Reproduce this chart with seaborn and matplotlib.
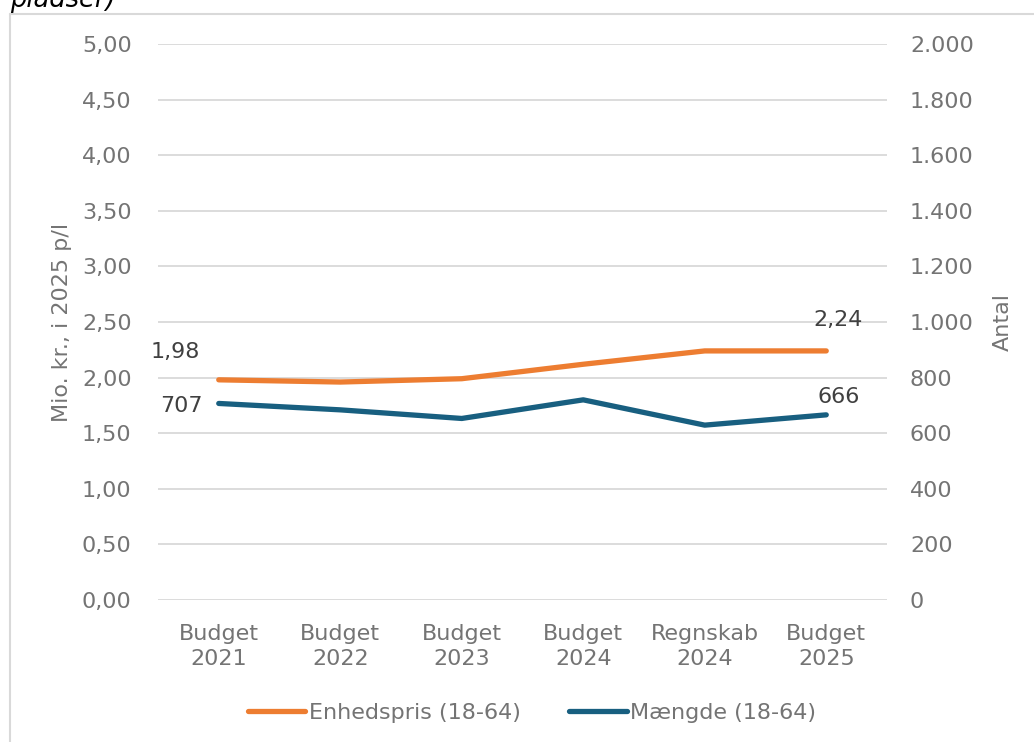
import matplotlib
matplotlib.use("Agg")
import matplotlib.pyplot as plt
from matplotlib.lines import Line2D
import seaborn as sns
import pandas as pd

sns.set_theme(style="white")
plt.rcParams['font.family'] = ['DejaVu Sans']

categories = ["Budget\n2021", "Budget\n2022", "Budget\n2023", "Budget\n2024", "Regnskab\n2024", "Budget\n2025"]
enhedspris = [1.98, 1.96, 1.99, 2.12, 2.24, 2.24]
maengde = [707, 684, 653, 720, 629, 666]
left_ticks = [0, 0.5, 1, 1.5, 2, 2.5, 3, 3.5, 4, 4.5, 5]
right_ticks = [0, 200, 400, 600, 800, 1000, 1200, 1400, 1600, 1800, 2000]

orange = "#ED7D31"
blue = "#185F80"
grey = "#747474"
grid = "#D9D9D9"
fs = 16
lw = 3.8

df = pd.DataFrame({"x": range(len(categories)), "Enhedspris": enhedspris, "Maengde": maengde})

fig = plt.figure(figsize=(10.34, 7.42), dpi=100)
ax = fig.add_axes([158/1034, 1-600/742, 729/1034, 556/742])
ax2 = ax.twinx()

sns.lineplot(data=df, x="x", y="Enhedspris", ax=ax, color=orange, linewidth=lw, solid_capstyle="round")
sns.lineplot(data=df, x="x", y="Maengde", ax=ax2, color=blue, linewidth=lw, solid_capstyle="round")

ax.set_xlim(-0.5, len(categories) - 0.5)
ax.set_ylim(0, 5)
ax2.set_ylim(0, 2000)
ax.set_yticks(left_ticks)
ax.set_yticklabels([f"{v:.2f}".replace(".", ",") for v in left_ticks])
ax2.set_yticks(right_ticks)
ax2.set_yticklabels([f"{v:,}".replace(",", ".") for v in right_ticks])
ax.set_xticks(range(len(categories)))
ax.set_xticklabels(categories)

for a in (ax, ax2):
    for s in a.spines.values():
        s.set_visible(False)
    a.tick_params(length=0, labelsize=fs, colors=grey)
ax.tick_params(axis="y", pad=19)
ax2.tick_params(axis="y", pad=16.5)
ax.tick_params(axis="x", pad=17)
for lbl in ax.get_xticklabels():
    lbl.set_linespacing(1.35)
ax.grid(axis="y", color=grid, linewidth=1.3)
ax.set_axisbelow(True)

ax.set_xlabel("")
ax.set_ylabel("Mio. kr., i 2025 p/l", fontsize=fs, color=grey, labelpad=7)
ax2.set_ylabel("Antal", fontsize=fs, color=grey, labelpad=14)

# data labels
lab = "#404040"
ax.text(0 - 0.36, enhedspris[0] + 0.25, f"{enhedspris[0]:.2f}".replace(".", ","), fontsize=fs,
        color=lab, ha="center", va="center")
ax.text(5 + 0.1, enhedspris[5] + 0.28, f"{enhedspris[5]:.2f}".replace(".", ","), fontsize=fs,
        color=lab, ha="center", va="center")
ax2.text(0 - 0.31, maengde[0] - 10, str(maengde[0]), fontsize=fs, color=lab, ha="center", va="center")
ax2.text(5 + 0.1, maengde[5] + 65, str(maengde[5]), fontsize=fs, color=lab, ha="center", va="center")

handles = [Line2D([], [], color=orange, linewidth=lw, solid_capstyle="round"),
           Line2D([], [], color=blue, linewidth=lw, solid_capstyle="round")]
fig.legend(handles, ["Enhedspris (18-64)", "Mængde (18-64)"], loc="center", ncol=2,
           bbox_to_anchor=(532/1034, 1-713/742), frameon=False, fontsize=fs,
           handlelength=2.6, handletextpad=0.15, columnspacing=2.2, labelcolor=grey)

# chart frame and cut-off title
fig.add_artist(Line2D([10/1034, 1], [1-14/742, 1-14/742], color=grid, linewidth=1.5))
fig.add_artist(Line2D([10/1034, 10/1034], [0, 1-14/742], color=grid, linewidth=1.5))
fig.text(10/1034, 1-7/742, "pladser)", fontsize=18.5, style="italic", color="#000000", va="baseline")

fig.savefig("out.png", dpi=100)
